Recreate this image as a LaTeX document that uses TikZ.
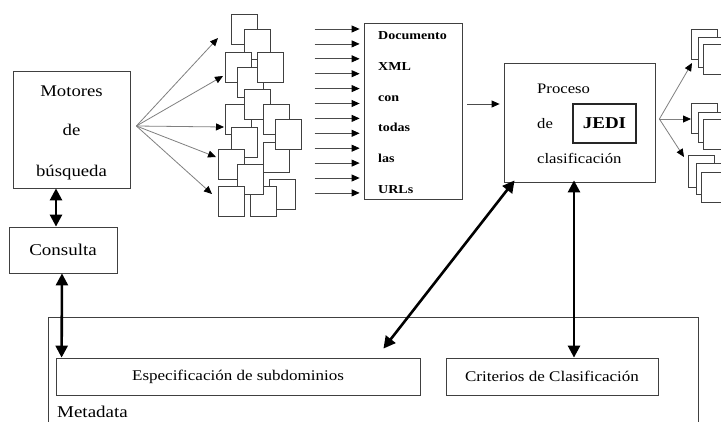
\documentclass[tikz,border=0pt]{standalone}
\usepackage{fontspec}
\setmainfont{Liberation Serif}[FakeStretch=1.15]
\usetikzlibrary{arrows.meta,calc}
\tikzset{
  box/.style={draw=black!75,line width=0.8pt,fill=white,inner sep=0pt},
  docbox/.style={draw=black!75,line width=0.7pt,fill=white,minimum width=26pt,minimum height=30pt,inner sep=0pt},
  lbl/.style={inner sep=0pt,anchor=base},
  lblw/.style={inner sep=0pt,anchor=base west},
  thinarr/.style={draw=black!70,line width=0.8pt,-{Triangle[length=8pt,width=7pt,color=black]}},
  grayarr/.style={draw=black!50,line width=0.8pt,-{Triangle[length=8pt,width=7pt,color=black]}},
  thickarr/.style={draw=black,line width=2.6pt,{Triangle[length=12pt,width=12pt]}-{Triangle[length=12pt,width=12pt]}},
}
\begin{document}
\begin{tikzpicture}[x=1pt,y=-1pt]
\clip (0,0) rectangle (721,421);
\fill[white] (0,0) rectangle (721,421);

% Motores de busqueda
\node[box,minimum width=117pt,minimum height=117pt] (mot) at (71.5,129.5) {};
\node[lbl,font=\fontsize{16.3}{18}\selectfont] (mt1) at (71.5,96) {Motores};
\node[lbl,font=\fontsize{16.3}{18}\selectfont] (mt2) at (71.5,135) {de};
\node[lbl,font=\fontsize{16.3}{18}\selectfont] (mt3) at (71.5,176) {búsqueda};

% Consulta
\node[box,minimum width=108pt,minimum height=46pt,font=\fontsize{16.5}{18}\selectfont] (cons) at (63,250) {Consulta};

% Document stack
\node[docbox] (d1) at (244,29.5) {};
\node[docbox] (d2) at (257,44.5) {};
\node[docbox] (d3) at (238,67) {};
\node[docbox] (d5) at (250.5,82) {};
\node[docbox] (d4) at (270,67) {};
\node[docbox] (d7) at (238,119) {};
\node[docbox] (d6) at (257,104) {};
\node[docbox] (d8) at (276,119) {};
\node[docbox] (d11) at (276,157) {};
\node[docbox] (d9) at (288,134) {};
\node[docbox] (d10) at (244,142) {};
\node[docbox] (d12) at (231.5,164) {};
\node[docbox] (d14) at (282,194) {};
\node[docbox] (d16) at (263,201.5) {};
\node[docbox] (d13) at (250.5,179) {};
\node[docbox] (d15) at (231.5,201.5) {};

% fan from Motores
\coordinate (fan) at ([xshift=6pt,yshift=3.5pt]mot.east);
\coordinate (t1) at (218,38);
\coordinate (t2) at (223,76);
\coordinate (t3) at (224,127);
\coordinate (t4) at (216,157);
\coordinate (t5) at (212,194);
\foreach \t in {t1,t2,t3,t4,t5} \draw[grayarr] (fan) -- (\t);

% XML document
\node[box,minimum width=98pt,minimum height=176pt] (xml) at (413,111) {};
\foreach \w [count=\i from 0] in {Documento,XML,con,todas,las,URLs}
  \node[lblw,font=\fontsize{12.2}{14}\bfseries\selectfont] (x\i) at (378,{39.5+30.8*\i}) {\w};
\foreach \i in {0,...,11}
  \draw[thinarr] ($(xml.west)+(-49,{-82+14.9*\i})$) -- ($(xml.west)+(-4,{-82+14.9*\i})$);

% Proceso de clasificacion
\node[box,minimum width=151pt,minimum height=119pt] (proc) at (579.5,122.5) {};
\node[lblw,font=\fontsize{14.5}{16}\selectfont] (p1) at (537,93) {Proceso};
\node[lblw,font=\fontsize{14.5}{16}\selectfont] (p2) at (537,128) {de};
\node[lblw,font=\fontsize{14.5}{16}\selectfont] (p3) at (537,163) {clasificación};
\node[draw=black!85,line width=1.3pt,fill=white,inner sep=0pt,minimum width=63pt,minimum height=39pt,font=\fontsize{16.5}{18}\bfseries\selectfont] (jedi) at (604.5,123.5) {JEDI};
\draw[thinarr] ([xshift=5pt,yshift=7pt]xml.east) -- ([xshift=-4pt,yshift=18.5pt]proc.west);

% output stacks
\node[docbox] (s1a) at (704,44) {};
\node[docbox] (s1b) at (711,52) {};
\node[docbox] (s1c) at (716,59.5) {};
\node[docbox] (s2a) at (704,118.5) {};
\node[docbox] (s2b) at (711,127) {};
\node[docbox] (s2c) at (716,134) {};
\node[docbox,minimum height=32pt] (s3a) at (701,171) {};
\node[docbox,minimum height=31pt] (s3b) at (709,178.5) {};
\node[docbox] (s3c) at (714,187) {};
\coordinate (rfan) at ([xshift=4pt,yshift=3.5pt]proc.east);
\coordinate (r1) at (692,63);
\coordinate (r2) at (691,119);
\coordinate (r3) at (684,157);
\foreach \r in {r1,r2,r3} \draw[grayarr] (rfan) -- (\r);

% Metadata
\node[draw=black!75,line width=0.8pt,inner sep=0pt,minimum width=650pt,minimum height=123pt] (meta) at (373,378.5) {};
\node[lblw,font=\fontsize{16.5}{18}\selectfont] (metat) at (57,417) {Metadata};
\node[box,minimum width=364pt,minimum height=37pt,font=\fontsize{14.8}{16}\selectfont] (esp) at (238,376.5) {Especificación de subdominios};
\node[box,minimum width=212pt,minimum height=37pt,font=\fontsize{14.8}{16}\selectfont] (crit) at (552,376.5) {Criterios de Clasificación};

% thick connectors
\draw[thickarr] ([xshift=-15.5pt]mot.south) -- ([xshift=-7pt]cons.north);
\draw[thickarr] ([xshift=-1pt]cons.south) -- ([xshift=6pt]esp.north west);
\draw[thickarr] ([xshift=11pt,yshift=2pt]proc.south west) -- ([xshift=-37pt,yshift=9pt]esp.north east);
\draw[thickarr] ([xshift=-5.5pt,yshift=2pt]proc.south) -- ([xshift=22pt]crit.north);
\end{tikzpicture}
\end{document}
